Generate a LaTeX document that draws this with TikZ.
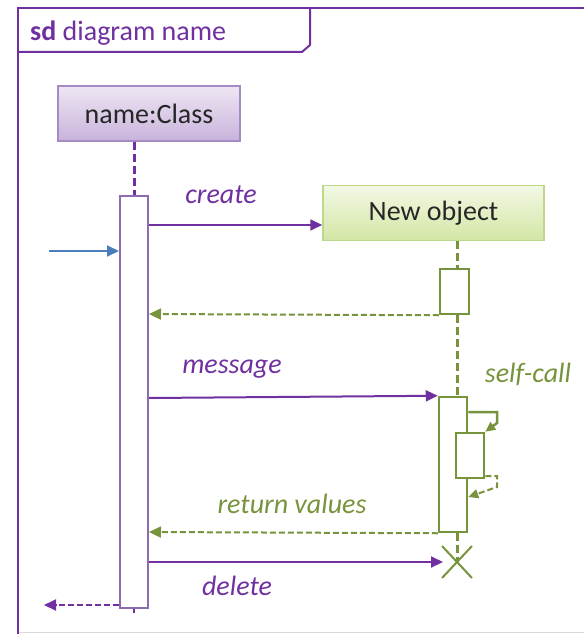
\documentclass[tikz,border=0pt]{standalone}
\usepackage{fontspec}
\setmainfont{Carlito}
\usetikzlibrary{arrows.meta,calc}
\definecolor{purp}{HTML}{7030A0}
\definecolor{lpurp}{HTML}{8C6BB1}
\definecolor{grn}{HTML}{77933C}
\definecolor{blu}{HTML}{4A7EBB}
\definecolor{ptop}{HTML}{EEE6F3}
\definecolor{pbot}{HTML}{C8B3DB}
\definecolor{pbord}{HTML}{A58AC6}
\definecolor{gtop}{HTML}{F3F8E5}
\definecolor{gbot}{HTML}{D3E6A4}
\definecolor{gbord}{HTML}{BCD88C}
\begin{document}
\begin{tikzpicture}[x=1pt,y=-1pt,
  lbl/.style={font=\fontsize{28}{32}\selectfont\itshape, inner sep=0pt},
  tip/.style={-{Triangle[length=12pt,width=11pt]}},
  dsh/.style={dash pattern=on 6pt off 3pt},
  lifedsh/.style={dash pattern=on 8pt off 4pt},
  classbox/.style={draw=pbord, line width=1.2pt, top color=ptop, bottom color=pbot,
     minimum width=182pt, minimum height=55pt, inner sep=0pt, font=\fontsize{28}{32}\selectfont, text=black!85},
  newbox/.style={draw=gbord, line width=1.5pt, top color=gtop, bottom color=gbot,
     minimum width=221pt, minimum height=55pt, inner sep=0pt, font=\fontsize{28}{32}\selectfont, text=black!85},
  actp/.style={draw=lpurp, fill=white, line width=2pt, minimum width=28pt, inner sep=0pt},
  actg/.style={draw=grn, fill=white, line width=2.5pt, inner sep=0pt},
]
\useasboundingbox (0,0) rectangle (584,634);
% frame
\draw[black!15, line width=1pt] (18,632) -- (584,632);
\draw[purp, line width=2pt] (18,634) -- (18,8) -- (584,8);
\draw[purp, line width=2pt] (18,52) -- (302,52) -- (310,45) -- (310,8);
\node[anchor=west, inner sep=0pt, text=purp, font=\fontsize{28}{32}\selectfont] (title) at (30,33) {\textbf{sd} diagram name};

% y levels
\coordinate (ycreate) at (0,225);
\coordinate (yblue) at (0,251);
\coordinate (yret1) at (0,314);
\coordinate (ymsg) at (0,398);
\coordinate (yrv) at (0,532);
\coordinate (ydel) at (0,562);
\coordinate (yback) at (0,605);
\coordinate (ysc1) at (0,412);
\coordinate (ysc2) at (0,476);
\coordinate (ysc3) at (0,497);
\coordinate (bluestart) at (49,251);
\coordinate (backend) at (44,605);

% objects
\node[classbox] (cls) at (149,113.5) {name:Class};
\node[newbox] (new) at (433.5,213) {New object};

% activations
\node[actp, minimum height=412pt] (act1) at (134,402) {};
\node[actg, minimum width=29pt, minimum height=45pt] (act2) at (454.5,291.5) {};
\node[actg, minimum width=28pt, minimum height=135pt] (act3) at (453,464.5) {};
\coordinate (xc) at (457,562);

% lifelines
\draw[purp, line width=3pt, lifedsh] (cls.south -| act1.north) -- (act1.north);
\draw[purp, line width=1.5pt] (act1.south) -- ++(0,4);
\draw[grn, line width=3pt, lifedsh] (new.south -| xc) -- (act2.north -| xc);
\draw[grn, line width=3pt, lifedsh] (act2.south -| xc) -- (act3.north -| xc);
\draw[grn, line width=3pt, lifedsh] (act3.south -| xc) -- (xc);
\node[actg, minimum width=28pt, minimum height=45pt] (act4) at (470,455.5) {};

% cross
\draw[grn, line width=2pt] ($(xc)+(-15,-16)$) -- ($(xc)+(15,16)$) ($(xc)+(15,-16)$) -- ($(xc)+(-15,16)$);

% messages
\draw[purp, line width=2pt, tip] (act1.east |- ycreate) -- (new.west |- ycreate);
\node[lbl, text=purp] (lcreate) at (221,195) {create};
\draw[blu, line width=2pt, tip] (bluestart) -- (act1.west |- yblue);
\draw[grn, line width=2pt, dsh, tip] (act2.south west) -- (act1.east |- yret1);
\draw[purp, line width=2pt, tip] (act1.east |- ymsg) -- (act3.north west);
\node[lbl, text=purp] (lmsg) at (232,369) {message};
\node[lbl, text=grn] (lself) at (528,374) {self-call};
% self call
\draw[grn, line width=2.5pt, -{Triangle[length=10pt,width=9pt]}] (act3.east |- ysc1) -- (497,412) -- (497,423) -- (act4.north east);
\draw[grn, line width=2pt, dsh, -{Triangle[length=10pt,width=9pt]}] (act4.east |- ysc2) -- (497,476) -- (497,487) -- (act3.east |- ysc3);
% return values
\draw[grn, line width=2pt, dsh, tip] (act3.south west) -- (act1.east |- yrv);
\node[lbl, text=grn] (lrv) at (292,504) {return values};
% delete
\draw[purp, line width=2pt, tip] (act1.east |- ydel) -- ($(xc)+(-14,0)$);
\node[lbl, text=purp] (ldel) at (237,586) {delete};
% back
\draw[purp, line width=2pt, dsh, tip] (act1.west |- yback) -- (backend);
\end{tikzpicture}
\end{document}
